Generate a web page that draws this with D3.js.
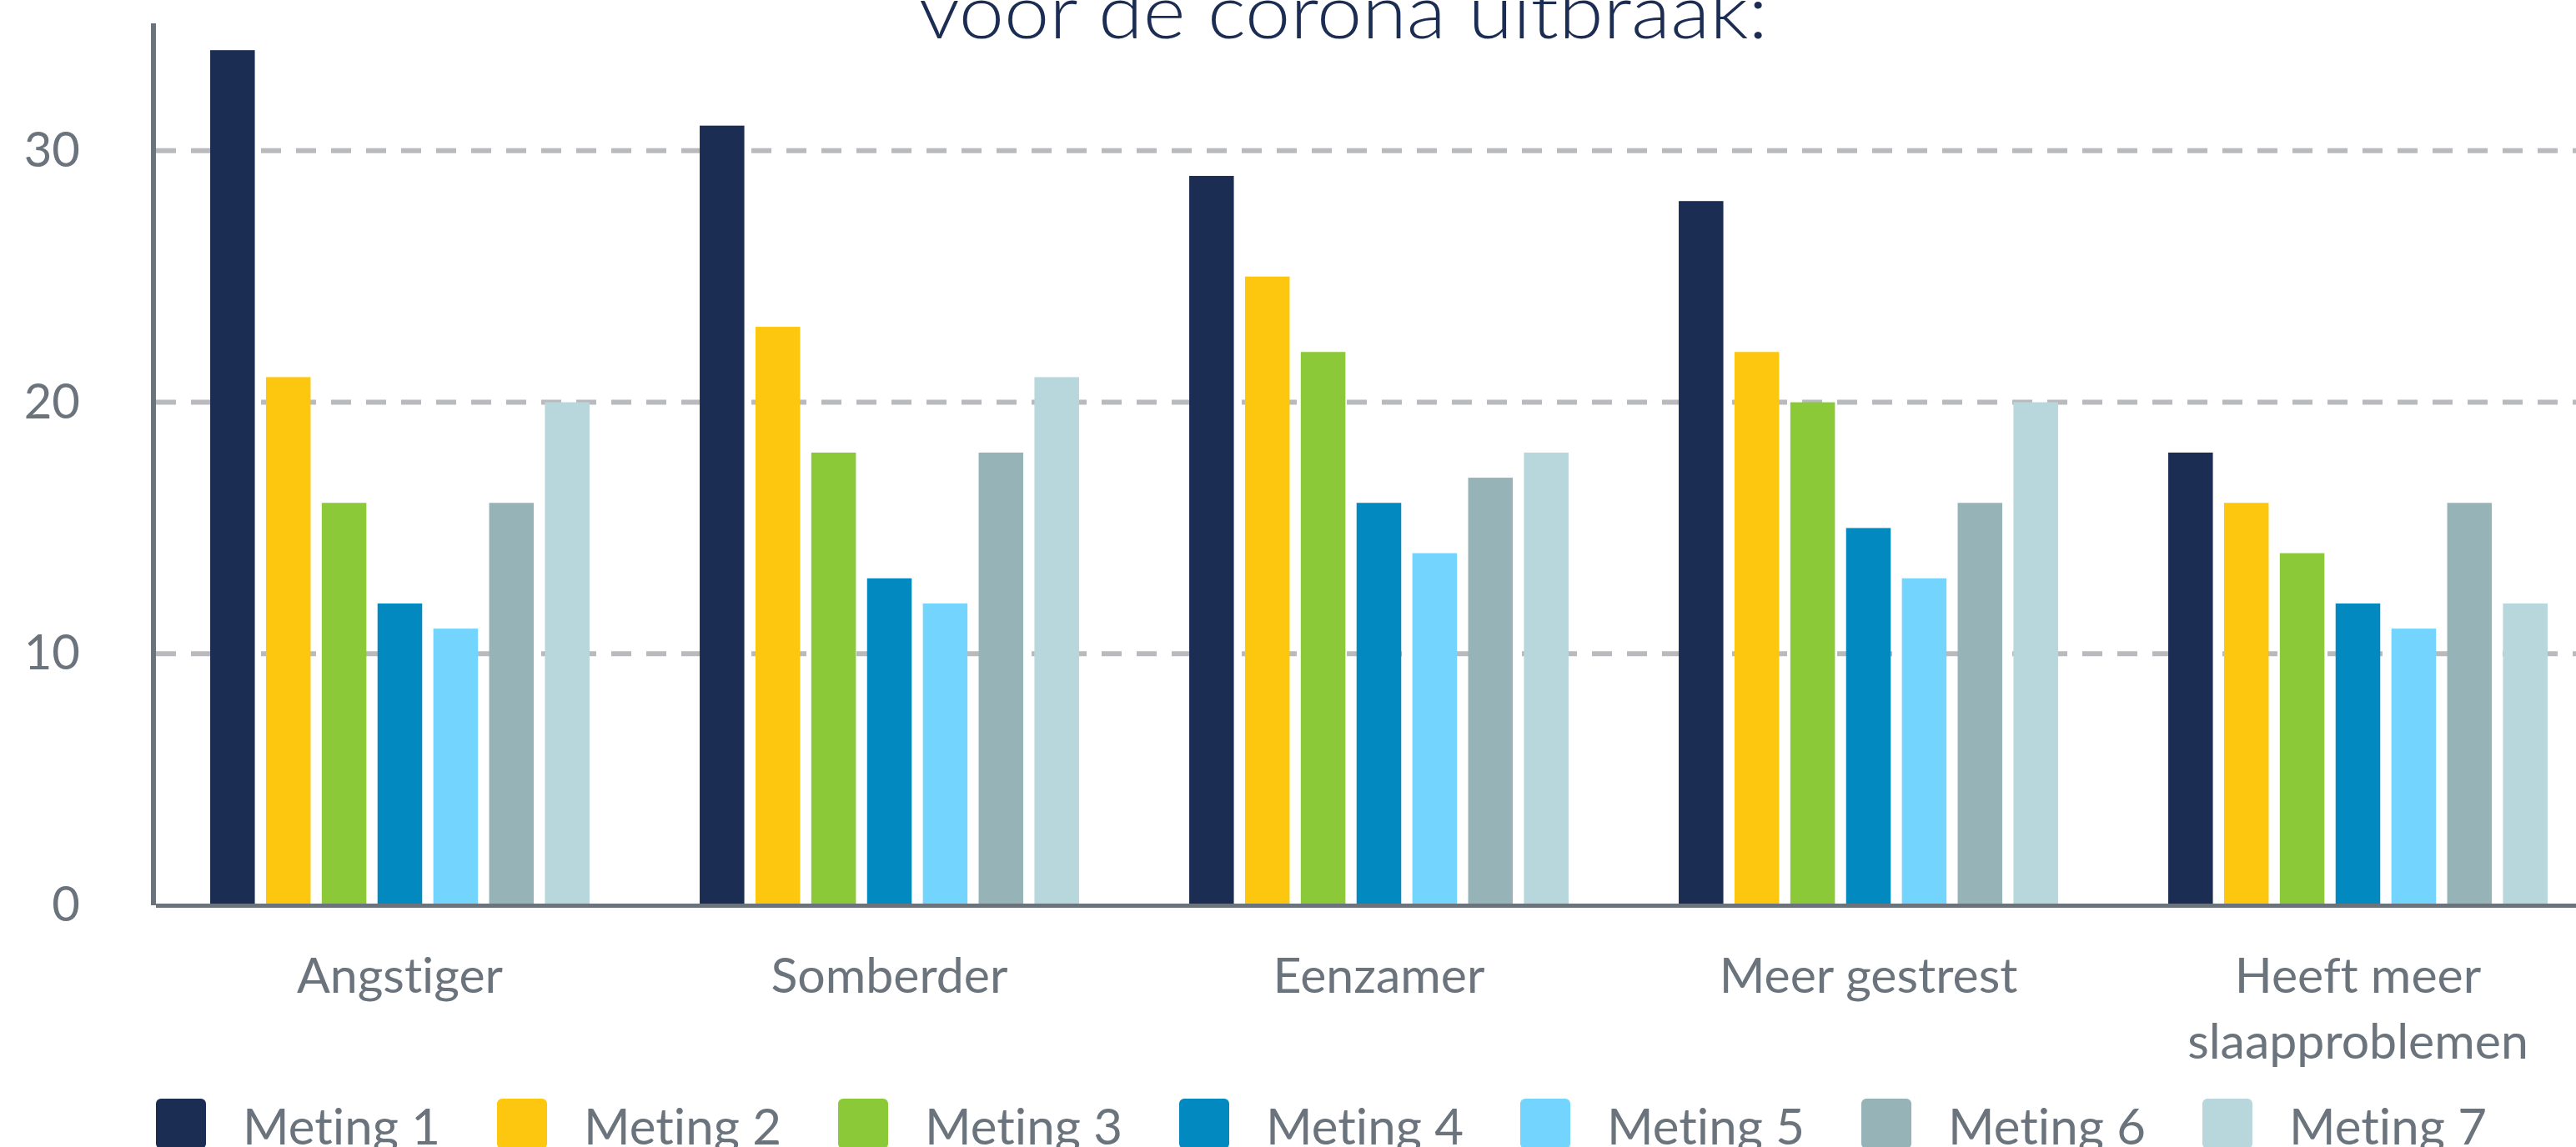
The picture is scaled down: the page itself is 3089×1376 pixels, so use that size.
<!DOCTYPE html>
<html>
<head>
<meta charset="utf-8">
<script src="https://cdn.jsdelivr.net/npm/d3@7"></script>
<style>
  body { margin: 0; background: #fff; }
  svg { display: block; }
  text { font-variant-ligatures: none; }
</style>
</head>
<body>
<div id="chart"></div>
<script>
const categories = ['Angstiger', 'Somberder', 'Eenzamer', 'Meer gestrest', 'Heeft meer\nslaapproblemen'];
const series = ['Meting 1', 'Meting 2', 'Meting 3', 'Meting 4', 'Meting 5', 'Meting 6', 'Meting 7'];
const meting1 = [34, 31, 29, 28, 18];
const meting2 = [21, 23, 25, 22, 16];
const meting3 = [16, 18, 22, 20, 14];
const meting4 = [12, 13, 16, 15, 12];
const meting5 = [11, 12, 14, 13, 11];
const meting6 = [16, 18, 17, 16, 16];
const meting7 = [20, 21, 18, 20, 12];
const yTicks = [0, 10, 20, 30];
const colors = ['#1c2d54', '#fdc70f', '#8cc938', '#0289bf', '#73d4fd', '#96b3b8', '#b8d7dc'];
const titleText = 'voor de corona uitbraak:';

const seriesValues = [meting1, meting2, meting3, meting4, meting5, meting6, meting7];

const width = 3089, height = 1376;
const axisColor = '#6b747c';

const svg = d3.select('#chart').append('svg')
    .attr('width', width)
    .attr('height', height);

const x0 = d3.scaleBand()
    .domain(categories)
    .range([186, 186 + 587 * 5])
    .paddingInner(0.225)
    .paddingOuter(0.1125);

const x1 = d3.scaleBand()
    .domain(series)
    .range([0, x0.bandwidth()])
    .paddingInner(0.2);

const y = d3.scaleLinear()
    .domain([0, 35])
    .range([1086, 30]);

// title (only its second line is on the canvas)
svg.append('text')
    .attr('x', 1611)
    .attr('y', 46)
    .attr('text-anchor', 'middle')
    .attr('fill', '#1c2d54')
    .attr('textLength', 1018)
    .attr('lengthAdjust', 'spacingAndGlyphs')
    .style('font-family', 'Lato, sans-serif')
    .style('font-weight', 300)
    .style('font-size', '90px')
    .text(titleText);

// dashed grid
svg.append('g')
    .selectAll('line')
    .data(yTicks.filter(d => d > 0))
    .join('line')
    .attr('x1', 187)
    .attr('x2', width)
    .attr('y1', d => y(d))
    .attr('y2', d => y(d))
    .attr('stroke', '#b8babe')
    .attr('stroke-width', 6)
    .attr('stroke-dasharray', '24 18');

// bars
const groups = svg.append('g')
    .selectAll('g')
    .data(categories)
    .join('g')
    .attr('transform', d => `translate(${x0(d)},0)`);

groups.selectAll('rect')
    .data((d, i) => series.map((s, j) => ({ s, v: seriesValues[j][i], c: colors[j] })))
    .join('rect')
    .attr('x', d => x1(d.s))
    .attr('y', d => y(d.v))
    .attr('width', x1.bandwidth())
    .attr('height', d => y(0) - y(d.v))
    .attr('fill', d => d.c);

// y axis
const yAxis = svg.append('g')
    .attr('transform', 'translate(184,0)')
    .call(d3.axisLeft(y).tickValues(yTicks).tickSize(0).tickPadding(88));
yAxis.select('.domain').remove();
yAxis.selectAll('text')
    .attr('fill', axisColor)
    .style('font-family', 'Lato, sans-serif')
    .style('font-size', '58px');

svg.append('line')
    .attr('x1', 184).attr('x2', 184)
    .attr('y1', 28).attr('y2', y(0))
    .attr('stroke', axisColor)
    .attr('stroke-width', 6);

// x axis
svg.append('line')
    .attr('x1', 187).attr('x2', width)
    .attr('y1', y(0) + 0.5).attr('y2', y(0) + 0.5)
    .attr('stroke', axisColor)
    .attr('stroke-width', 5);

const xLabels = svg.append('g')
    .selectAll('text')
    .data(categories)
    .join('text')
    .attr('x', d => x0(d) + x0.bandwidth() / 2)
    .attr('y', 1191)
    .attr('text-anchor', 'middle')
    .attr('fill', axisColor)
    .style('font-family', 'Lato, sans-serif')
    .style('font-size', '59px');

xLabels.selectAll('tspan')
    .data(d => d.split('\n'))
    .join('tspan')
    .attr('x', function () { return d3.select(this.parentNode).attr('x'); })
    .attr('dy', (d, i) => i === 0 ? 0 : 79)
    .text(d => d);

// legend
const lx = d3.scaleBand()
    .domain(series)
    .range([187, 187 + 409 * 7]);

const legend = svg.append('g')
    .selectAll('g')
    .data(series)
    .join('g')
    .attr('transform', d => `translate(${lx(d)},1318)`);

legend.append('rect')
    .attr('width', 60)
    .attr('height', 60)
    .attr('rx', 6)
    .attr('fill', (d, i) => colors[i]);

legend.append('text')
    .attr('x', 104)
    .attr('y', 55)
    .attr('fill', axisColor)
    .style('font-family', 'Lato, sans-serif')
    .style('font-size', '60px')
    .text(d => d);
</script>
</body>
</html>
